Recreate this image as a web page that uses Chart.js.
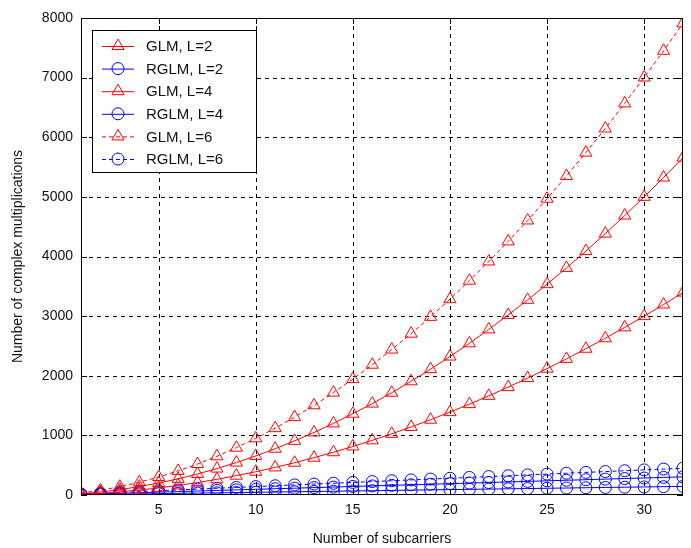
<!DOCTYPE html>
<html>
<head>
<meta charset="utf-8">
<script src="https://cdn.jsdelivr.net/npm/chart.js@4/dist/chart.umd.min.js"></script>
<style>
  html, body { margin: 0; padding: 0; background: #fff; }
  #wrap { width: 691px; height: 548px; position: relative; }
</style>
</head>
<body>
<div id="wrap"><canvas id="chart"></canvas></div>
<script>
const subcarriers = Array.from({ length: 32 }, (_, i) => i + 1);
const xTicks = [5, 10, 15, 20, 25, 30];
const yTicks = [0, 1000, 2000, 3000, 4000, 5000, 6000, 7000, 8000];

const glmL2 = [12, 29, 53, 83, 119, 161, 209, 263, 324, 390, 463, 541, 626, 717, 814, 917,
  1026, 1141, 1263, 1390, 1524, 1663, 1809, 1961, 2119, 2283, 2453, 2629, 2812, 3000, 3195, 3395];
const glmL4 = [20, 50, 90, 141, 201, 271, 352, 443, 544, 655, 776, 908, 1049, 1201, 1363, 1533,
  1715, 1907, 2110, 2322, 2544, 2777, 3020, 3273, 3536, 3808, 4091, 4384, 4687, 5001, 5325, 5658];
const glmL6 = [33, 79, 140, 214, 302, 404, 520, 649, 793, 950, 1121, 1306, 1504, 1717, 1944, 2185,
  2439, 2706, 2988, 3284, 3594, 3917, 4254, 4605, 4970, 5349, 5742, 6147, 6568, 7002, 7450, 7912];
const rglmL2 = [5, 9, 14, 18, 23, 27, 32, 36, 41, 45, 50, 54, 59, 63, 68, 72,
  77, 81, 86, 90, 95, 99, 104, 108, 113, 117, 122, 126, 131, 135, 140, 144];
const rglmL4 = [10, 19, 29, 38, 48, 57, 67, 76, 86, 95, 105, 114, 124, 133, 143, 152,
  162, 171, 181, 190, 200, 209, 219, 228, 238, 247, 257, 266, 276, 285, 295, 304];
const rglmL6 = [15, 29, 43, 57, 71, 85, 99, 113, 127, 141, 155, 169, 183, 197, 211, 225,
  239, 253, 267, 281, 295, 309, 323, 337, 351, 365, 379, 393, 407, 421, 435, 449];

const RED = '#ff0000';
const BLUE = '#0000ff';
const FONT = 'Liberation Sans, Arial, sans-serif';

function series(label, values, color, marker, dashed) {
  return {
    label: label,
    data: values.map((v, i) => ({ x: subcarriers[i], y: v })),
    borderColor: color,
    backgroundColor: 'rgba(0,0,0,0)',
    borderWidth: 1,
    borderDash: dashed ? [4, 3] : [],
    pointStyle: marker,
    pointRadius: marker === 'triangle' ? 7 : 6,
    pointBorderColor: color,
    pointBackgroundColor: 'rgba(0,0,0,0)',
    pointBorderWidth: 1,
    tension: 0
  };
}

const datasets = [
  series('GLM, L=2', glmL2, RED, 'triangle', false),
  series('RGLM, L=2', rglmL2, BLUE, 'circle', false),
  series('GLM, L=4', glmL4, RED, 'triangle', false),
  series('RGLM, L=4', rglmL4, BLUE, 'circle', false),
  series('GLM, L=6', glmL6, RED, 'triangle', true),
  series('RGLM, L=6', rglmL6, BLUE, 'circle', true)
];

// dashed grid behind the data, frame and inward ticks on top
const framePlugin = {
  id: 'frame',
  beforeDatasetsDraw(chart) {
    const { ctx, chartArea: a, scales } = chart;
    ctx.save();
    ctx.strokeStyle = '#000';
    ctx.lineWidth = 1;
    ctx.setLineDash([4, 4]);
    ctx.beginPath();
    xTicks.forEach(t => {
      const x = Math.round(scales.x.getPixelForValue(t)) + 0.5;
      ctx.moveTo(x, a.top); ctx.lineTo(x, a.bottom);
    });
    yTicks.slice(1, -1).forEach(t => {
      const y = Math.round(scales.y.getPixelForValue(t)) + 0.5;
      ctx.moveTo(a.left, y); ctx.lineTo(a.right, y);
    });
    ctx.stroke();
    ctx.restore();
  },
  afterDatasetsDraw(chart) {
    const { ctx, chartArea: a, scales } = chart;
    ctx.save();
    ctx.strokeStyle = '#000';
    ctx.lineWidth = 1;
    ctx.setLineDash([]);
    ctx.strokeRect(a.left + 0.5, a.top + 0.5, a.right - a.left - 1, a.bottom - a.top - 1);
    ctx.beginPath();
    xTicks.forEach(t => {
      const x = Math.round(scales.x.getPixelForValue(t)) + 0.5;
      ctx.moveTo(x, a.bottom); ctx.lineTo(x, a.bottom - 6);
      ctx.moveTo(x, a.top); ctx.lineTo(x, a.top + 6);
    });
    yTicks.forEach(t => {
      const y = Math.round(scales.y.getPixelForValue(t)) + 0.5;
      ctx.moveTo(a.left, y); ctx.lineTo(a.left + 6, y);
      ctx.moveTo(a.right, y); ctx.lineTo(a.right - 6, y);
    });
    ctx.stroke();
    ctx.restore();
  }
};

// legend box drawn like the MATLAB one
const legendPlugin = {
  id: 'boxLegend',
  afterDraw(chart) {
    const { ctx } = chart;
    const left = 92, top = 30, width = 164, height = 142, rowH = 22.6;
    ctx.save();
    ctx.fillStyle = '#fff';
    ctx.fillRect(left, top, width, height);
    ctx.strokeStyle = '#000';
    ctx.lineWidth = 1;
    ctx.setLineDash([]);
    ctx.strokeRect(left + 0.5, top + 0.5, width, height);
    chart.data.datasets.forEach((ds, i) => {
      const y = top + 16 + i * rowH;
      ctx.strokeStyle = ds.borderColor;
      ctx.lineWidth = 1;
      ctx.setLineDash(ds.borderDash);
      ctx.beginPath();
      ctx.moveTo(102, y + 0.5);
      ctx.lineTo(134, y + 0.5);
      ctx.stroke();
      ctx.setLineDash([]);
      ctx.fillStyle = 'rgba(0,0,0,0)';
      Chart.helpers.drawPoint(ctx, {
        pointStyle: ds.pointStyle,
        radius: ds.pointRadius,
        borderWidth: 1
      }, 118, y);
      ctx.fillStyle = '#111';
      ctx.font = '15px ' + FONT;
      ctx.textBaseline = 'middle';
      ctx.textAlign = 'left';
      ctx.fillText(ds.label, 146, y + 1);
    });
    ctx.restore();
  }
};

new Chart(document.getElementById('chart'), {
  type: 'line',
  data: { datasets: datasets },
  plugins: [framePlugin, legendPlugin],
  options: {
    responsive: true,
    maintainAspectRatio: false,
    animation: false,
    layout: { padding: { top: 18, right: 1, left: 0, bottom: 0 } },
    plugins: {
      legend: { display: false },
      tooltip: { enabled: false }
    },
    scales: {
      x: {
        type: 'linear',
        min: 1,
        max: 32,
        afterBuildTicks: axis => { axis.ticks = xTicks.map(v => ({ value: v })); },
        afterFit: axis => { axis.height = 53; },
        grid: { display: false, drawTicks: false },
        border: { display: false },
        ticks: {
          color: '#111',
          font: { family: FONT, size: 14 },
          padding: 7,
          maxRotation: 0,
          callback: v => String(v)
        },
        title: {
          display: true,
          text: 'Number of subcarriers',
          color: '#111',
          font: { family: FONT, size: 14 },
          padding: { top: 4, bottom: 0 }
        }
      },
      y: {
        min: 0,
        max: 8000,
        afterBuildTicks: axis => { axis.ticks = yTicks.map(v => ({ value: v })); },
        afterFit: axis => { axis.width = 81; },
        grid: { display: false, drawTicks: false },
        border: { display: false },
        ticks: {
          color: '#111',
          font: { family: FONT, size: 14 },
          padding: 8,
          callback: v => String(v)
        },
        title: {
          display: true,
          text: 'Number of complex multiplications',
          color: '#111',
          font: { family: FONT, size: 14 },
          padding: { top: 10, bottom: 0 }
        }
      }
    }
  }
});
</script>
</body>
</html>
